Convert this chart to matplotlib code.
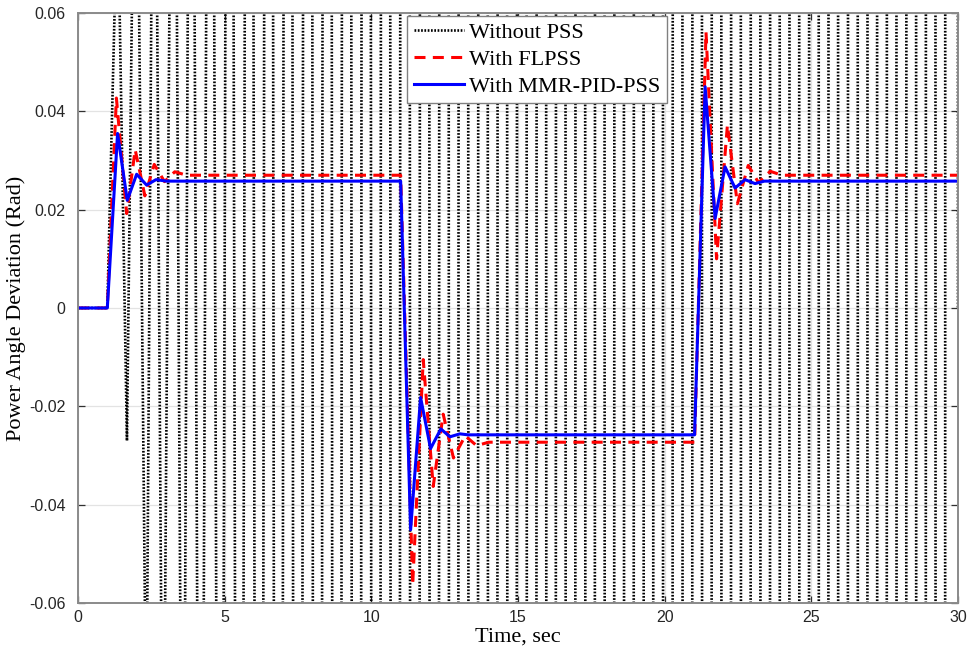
import matplotlib
matplotlib.use("Agg")
import matplotlib.pyplot as plt

# ---- responses (time in s, power angle deviation in rad) ----
# Without PSS: turning points of the growing oscillation
nopss_t = [0.00, 1.00, 1.35, 1.67, 1.97, 2.33, 2.60, 2.90, 3.26, 3.58, 3.86, 4.18,
           4.52, 4.85, 5.18, 5.51, 5.85, 6.18, 6.51, 6.84, 7.17, 7.50, 7.84, 8.17,
           8.50, 8.83, 9.16, 9.50, 9.83, 10.16, 10.49, 10.82, 11.15, 11.49, 11.82,
           12.15, 12.48, 12.81, 13.14, 13.48, 13.81, 14.14, 14.47, 14.80, 15.13,
           15.47, 15.80, 16.13, 16.46, 16.79, 17.13, 17.46, 17.79, 18.12, 18.45,
           18.78, 19.12, 19.45, 19.78, 20.11, 20.44, 20.78, 21.11, 21.44, 21.77,
           22.10, 22.43, 22.77, 23.10, 23.43, 23.76, 24.09, 24.42, 24.76, 25.09,
           25.42, 25.75, 26.08, 26.42, 26.75, 27.08, 27.41, 27.74, 28.07, 28.41,
           28.74, 29.07, 29.40, 29.73, 30.00]
nopss_v = [0.0, 0.0, 0.085, -0.027, 0.13, -0.09, 0.15, -0.12, 0.18, -0.16, 0.22, -0.22,
           0.28, -0.30, 0.38, -0.46, 0.55, -0.65, 0.75, -0.85, 0.95, -1.1, 1.2,
           -1.3, 1.4, -1.5, 1.6, -1.7, 1.8, -1.9, 2.0, -2.1, 2.2, -2.3, 2.4,
           -2.5, 2.6, -2.7, 2.8, -2.9, 3.0, -3.1, 3.2, -3.3, 3.4,
           -3.5, 3.6, -3.7, 3.8, -3.9, 4.0, -4.1, 4.2, -4.3, 4.4,
           -4.5, 4.6, -4.7, 4.8, -4.9, 5.0, -5.1, 5.2, -5.3, 5.4,
           -5.5, 5.6, -5.7, 5.8, -5.9, 6.0, -6.1, 6.2, -6.3, 6.4,
           -6.5, 6.6, -6.7, 6.8, -6.9, 7.0, -7.1, 7.2, -7.3, 7.4,
           -7.5, 7.6, -7.7, 7.8, 0.0]

# With FLPSS
flpss_t = [0.00, 1.00, 1.31, 1.66, 1.95, 2.28, 2.60, 2.95, 3.30, 3.70,
           11.00, 11.41, 11.77, 12.11, 12.45, 12.80, 13.20, 13.59, 14.00,
           21.02, 21.41, 21.77, 22.14, 22.48, 22.85, 23.20, 23.60, 24.00, 30.00]
flpss_v = [0.0, 0.0, 0.0427, 0.0192, 0.0322, 0.0228, 0.0292, 0.0257, 0.0277, 0.0270,
           0.0270, -0.0563, -0.0105, -0.0363, -0.0216, -0.0305, -0.0260, -0.0280, -0.0273,
           -0.0273, 0.0561, 0.0100, 0.0372, 0.0212, 0.0290, 0.0255, 0.0278, 0.0270, 0.0270]

# With MMR-PID-PSS
mmr_t = [0.00, 1.00, 1.35, 1.68, 2.00, 2.34, 2.66, 3.02,
         11.00, 11.34, 11.68, 12.02, 12.37, 12.68, 13.02, 13.30,
         21.02, 21.38, 21.72, 22.06, 22.40, 22.74, 23.08, 23.40, 30.00]
mmr_v = [0.0, 0.0, 0.0355, 0.0219, 0.0272, 0.0250, 0.0261, 0.0258,
         0.0258, -0.0451, -0.0182, -0.0286, -0.0246, -0.0262, -0.0256, -0.0258,
         -0.0258, 0.0450, 0.0182, 0.0287, 0.0244, 0.0261, 0.0253, 0.0258, 0.0258]

series_labels = ["Without PSS", "With FLPSS", "With MMR-PID-PSS"]
x_ticks = [0, 5, 10, 15, 20, 25, 30]
y_ticks = [-0.06, -0.04, -0.02, 0, 0.02, 0.04, 0.06]
y_ticklabels = ["-0.06", "-0.04", "-0.02", "0", "0.02", "0.04", "0.06"]

serif = ["Liberation Serif", "DejaVu Serif"]
sans = ["Liberation Sans", "DejaVu Sans"]

fig = plt.figure(figsize=(9.71, 6.55), dpi=100)
ax = fig.add_axes([0.0803, 0.0794, 0.9063, 0.9008])

ax.plot(nopss_t, nopss_v, color="black", lw=1.9, linestyle=(0, (0.65, 0.6)),
        label=series_labels[0])
ax.plot(flpss_t, flpss_v, color="#ff0000", lw=2.2, linestyle=(0, (3.6, 2.4)),
        label=series_labels[1])
ax.plot(mmr_t, mmr_v, color="#0000ff", lw=2.2, label=series_labels[2])

ax.set_xlim(0, 30)
ax.set_ylim(-0.06, 0.06)
ax.set_xticks(x_ticks)
ax.set_xticklabels([str(v) for v in x_ticks], fontfamily=sans, fontsize=11.5)
ax.set_yticks(y_ticks)
ax.set_yticklabels(y_ticklabels, fontfamily=sans, fontsize=11.5)

ax.grid(True, color="#e3e3e3", lw=0.9)
ax.set_axisbelow(True)
ax.tick_params(direction="in", length=5, width=0.9, color="#303030",
               top=True, right=True, labelcolor="#262626")
ax.tick_params(axis="x", pad=5)
ax.tick_params(axis="y", pad=9)
for sp in ax.spines.values():
    sp.set_color("#8a8a8a")
    sp.set_linewidth(1.4)

ax.set_xlabel("Time, sec", fontfamily=serif, fontsize=16, labelpad=2)
ax.set_ylabel("Power Angle Deviation (Rad)", fontfamily=serif, fontsize=16, labelpad=2)

leg = ax.legend(loc="upper left", bbox_to_anchor=(0.374, 0.995),
                prop={"family": serif, "size": 16}, frameon=True, fancybox=False,
                framealpha=1.0, edgecolor="#808080", handlelength=2.25,
                handletextpad=0.25, labelspacing=0.28, borderpad=0.3,
                borderaxespad=0.0)
leg.get_frame().set_linewidth(1.0)

fig.savefig("out.png", dpi=100)
